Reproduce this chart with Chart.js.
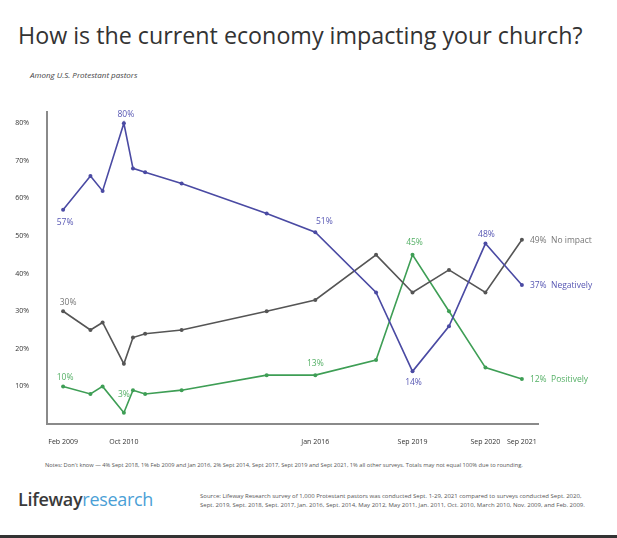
<!DOCTYPE html>
<html lang="en">
<head>
  <meta charset="UTF-8" />
  <title>How is the current economy impacting your church?</title>
  <script src="https://cdn.jsdelivr.net/npm/chart.js"></script>
  <style>
    html, body { margin: 0; padding: 0; background: #fff; }
    body { width: 617px; height: 538px; position: relative; overflow: hidden; font-family: "Open Sans", sans-serif; color: #333; }
    .title { position: absolute; left: 18px; top: 18px; font-size: 24px; white-space: nowrap; transform-origin: left top; color: #333; }
    .subtitle { position: absolute; left: 30px; top: 69px; font-size: 8px; font-style: italic; color: #444; }
    .chart-box { position: absolute; left: 0; top: 95px; width: 617px; height: 355px; }
    .notes { position: absolute; left: 45px; top: 461px; font-size: 5.7px; color: #555; white-space: nowrap; }
    .logo { position: absolute; left: 18px; top: 487px; font-size: 18px; white-space: nowrap; letter-spacing: -0.3px; }
    .logo b { color: #3a3a3a; font-weight: 600; }
    .logo span { color: #4b9fd6; }
    .source { position: absolute; left: 200px; top: 492px; font-size: 6px; line-height: 9px; color: #555; white-space: nowrap; }
    .bottom-bar { position: absolute; left: 0; top: 535px; width: 617px; height: 3px; background: #333; }
  </style>
</head>
<body>
  <div class="title" id="title">How is the current economy impacting your church?</div>
  <div class="subtitle">Among U.S. Protestant pastors</div>

  <div class="chart-box">
    <canvas id="economyChart"></canvas>
  </div>

  <div class="notes">Notes: Don't know &mdash; 4% Sept 2018, 1% Feb 2009 and Jan 2016, 2% Sept 2014, Sept 2017, Sept 2019 and Sept 2021, 1% all other surveys. Totals may not equal 100% due to rounding.</div>
  <div class="logo"><b>Lifeway</b><span>research</span></div>
  <div class="source">Source: Lifeway Research survey of 1,000 Protestant pastors was conducted Sept. 1-29, 2021 compared to surveys conducted Sept. 2020,<br>Sept. 2019, Sept. 2018, Sept. 2017, Jan. 2016, Sept. 2014, May 2012, May 2011, Jan. 2011, Oct. 2010, March 2010, Nov. 2009, and Feb. 2009.</div>
  <div class="bottom-bar"></div>

  <script>
    // Survey dates (year-month)
    const surveyDates = ['2009-02', '2009-11', '2010-03', '2010-10', '2011-01', '2011-05', '2012-05',
                         '2014-09', '2016-01', '2017-09', '2018-09', '2019-09', '2020-09', '2021-09'];

    // Share of pastors, %
    const negatively = [57, 66, 62, 80, 68, 67, 64, 56, 51, 35, 14, 26, 48, 37];
    const noImpact   = [30, 25, 27, 16, 23, 24, 25, 30, 33, 45, 35, 41, 35, 49];
    const positively = [10, 8, 10, 3, 9, 8, 9, 13, 13, 17, 45, 30, 15, 12];

    // Axis ticks
    const xTickDates  = ['2009-02', '2010-10', '2016-01', '2018-09', '2020-09', '2021-09'];
    const xTickLabels = ['Feb 2009', 'Oct 2010', 'Jan 2016', 'Sep 2019', 'Sep 2020', 'Sep 2021'];
    const yTickValues = [10, 20, 30, 40, 50, 60, 70, 80];

    // months since Feb 2009
    function monthIndex(d) {
      const [y, m] = d.split('-').map(Number);
      return (y - 2009) * 12 + (m - 2);
    }
    const surveyMonths = surveyDates.map(monthIndex);
    const xTickMonths = xTickDates.map(monthIndex);

    function toPoints(values) {
      return values.map((v, i) => ({ x: surveyMonths[i], y: v }));
    }

    const BLUE = '#4a4aa3';
    const GREY = '#555555';
    const GREEN = '#3e9e55';

    // value labels: which point, and how to place the text
    const labelSpecs = [
      { ds: 0, i: 0, text: '57%', dx: 2, dy: 13, color: '#5656b3' },
      { ds: 0, i: 3, text: '80%', dx: 2, dy: -9, color: '#5656b3' },
      { ds: 0, i: 8, text: '51%', dx: 9, dy: -11, color: '#5656b3' },
      { ds: 0, i: 10, text: '14%', dx: 1, dy: 11, color: '#5656b3' },
      { ds: 0, i: 12, text: '48%', dx: 1, dy: -9, color: '#5656b3' },
      { ds: 0, i: 13, text: '37%  Negatively', dx: 8, dy: 1, color: '#5656b3', align: 'left' },
      { ds: 1, i: 0, text: '30%', dx: 5, dy: -9, color: '#777' },
      { ds: 1, i: 13, text: '49%  No impact', dx: 8, dy: 1, color: '#777', align: 'left' },
      { ds: 2, i: 0, text: '10%', dx: 2, dy: -9, color: '#55b066' },
      { ds: 2, i: 3, text: '3%', dx: 0, dy: -18, color: '#55b066' },
      { ds: 2, i: 8, text: '13%', dx: 0, dy: -12, color: '#55b066' },
      { ds: 2, i: 10, text: '45%', dx: 2, dy: -12, color: '#55b066' },
      { ds: 2, i: 13, text: '12%  Positively', dx: 8, dy: 1, color: '#55b066', align: 'left' }
    ];

    const valueLabels = {
      id: 'valueLabels',
      afterDatasetsDraw(chart) {
        const ctx = chart.ctx;
        ctx.save();
        ctx.font = '8.5px "Open Sans", sans-serif';
        ctx.textBaseline = 'middle';
        labelSpecs.forEach(s => {
          const pt = chart.getDatasetMeta(s.ds).data[s.i];
          ctx.fillStyle = s.color;
          ctx.textAlign = s.align || 'center';
          ctx.fillText(s.text, pt.x + s.dx, pt.y + s.dy);
        });
        ctx.restore();
      }
    };

    function lineSet(label, values, color) {
      return {
        label: label,
        data: toPoints(values),
        borderColor: color,
        backgroundColor: color,
        borderWidth: 1.6,
        pointRadius: 2,
        pointBorderWidth: 0,
        tension: 0
      };
    }

    new Chart(document.getElementById('economyChart'), {
      type: 'line',
      data: {
        datasets: [
          lineSet('Negatively', negatively, BLUE),
          lineSet('No impact', noImpact, GREY),
          lineSet('Positively', positively, GREEN)
        ]
      },
      options: {
        responsive: true,
        maintainAspectRatio: false,
        animation: false,
        layout: { padding: { left: 0, right: 79, top: 17, bottom: 0 } },
        plugins: { legend: { display: false }, tooltip: { enabled: false } },
        scales: {
          x: {
            type: 'linear',
            min: -5.3,
            max: 156.3,
            grid: { display: false },
            border: { display: true, color: '#8a8a8a', width: 2 },
            afterBuildTicks: (scale) => { scale.ticks = xTickMonths.map(v => ({ value: v })); },
            afterFit: (scale) => { scale.height = 26; },
            ticks: {
              autoSkip: false,
              maxRotation: 0,
              padding: 6,
              color: '#333',
              font: { family: 'Open Sans', size: 7 },
              callback: (v) => xTickLabels[xTickMonths.indexOf(v)]
            }
          },
          y: {
            min: 0,
            max: 83,
            grid: { display: false },
            border: { display: true, color: '#8a8a8a', width: 2 },
            afterBuildTicks: (scale) => { scale.ticks = yTickValues.map(v => ({ value: v })); },
            afterFit: (scale) => { scale.width = 47; },
            ticks: {
              padding: 10,
              color: '#333',
              font: { family: 'Open Sans', size: 7 },
              callback: (v) => v + '%'
            }
          }
        }
      },
      plugins: [valueLabels]
    });

    // squeeze the title to the width it has in the original
    const t = document.getElementById('title');
    t.style.transform = 'scaleX(' + (564 / t.scrollWidth) + ')';
  </script>
</body>
</html>
